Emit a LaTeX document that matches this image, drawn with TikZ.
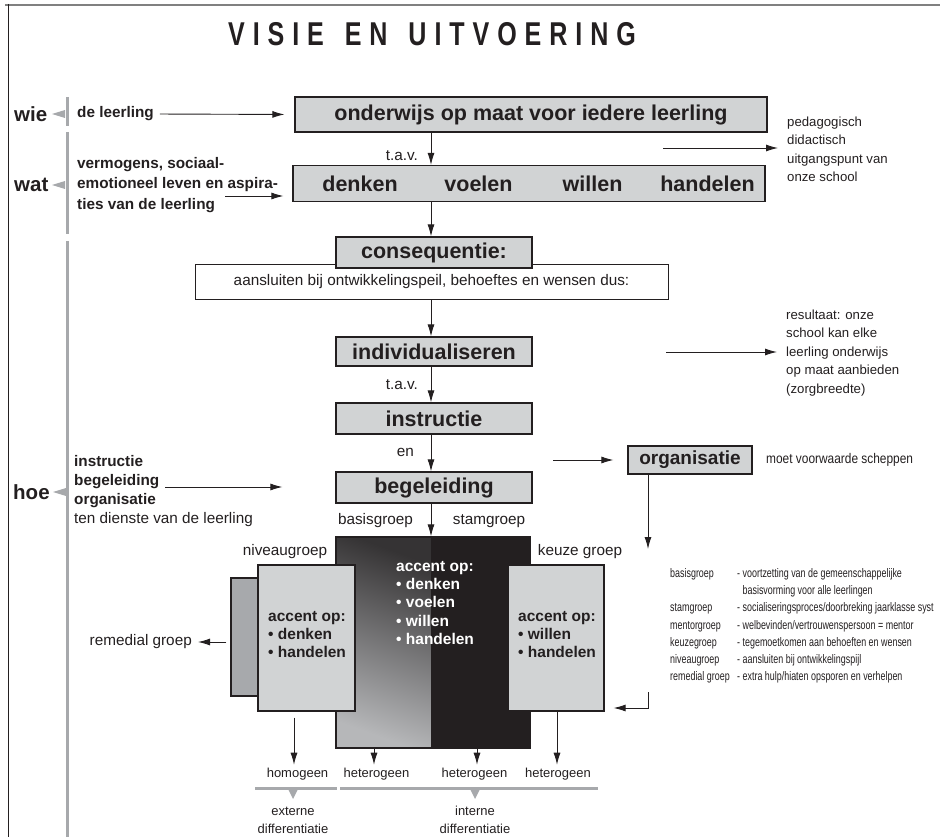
\documentclass[tikz,border=0pt]{standalone}
\usepackage{fontspec}
\setmainfont{Liberation Sans}
\newfontfamily\listfont{Liberation Sans}[FakeStretch=0.72]
\newfontfamily\moetfont{Liberation Sans}[FakeStretch=0.85]
\newfontfamily\titlefont{Liberation Sans}[FakeStretch=0.76,LetterSpace=24]
\usetikzlibrary{arrows.meta}
\definecolor{dk}{HTML}{231F20}
\definecolor{lg}{HTML}{D1D3D4}
\definecolor{mg}{HTML}{A7A9AC}
\definecolor{br}{HTML}{A7A9AC}
\definecolor{shA}{HTML}{353334}
\definecolor{shB}{HTML}{B6B7B9}
\newcommand\FBox{\fontsize{21.5}{24}\selectfont\bfseries}
\newcommand\FOrg{\fontsize{19}{22}\selectfont\bfseries}
\newcommand\FLab{\fontsize{20.5}{22}\selectfont\bfseries}
\newcommand\FBold{\fontsize{15.3}{20.5}\selectfont\bfseries}
\newcommand\FAcc{\fontsize{15.5}{18.3}\selectfont\bfseries}
\newcommand\FReg{\fontsize{15.3}{19}\selectfont}
\newcommand\FSm{\fontsize{13.2}{18.5}\selectfont}
\newcommand\FMoet{\moetfont\fontsize{14}{16}\selectfont}
\newcommand\FBot{\fontsize{13}{18}\selectfont}
\newcommand\FList{\listfont\fontsize{12.4}{17.3}\selectfont}
\begin{document}
\begin{tikzpicture}[x=1pt,y=-1pt,
  gbox/.style={draw=dk, fill=lg, line width=1.2pt, inner sep=0pt, font=\FBox, text=dk},
  arr/.style={draw=dk, line width=0.9pt, -{Latex[length=12pt,width=7pt]}},
  txt/.style={inner sep=0pt, text=dk},
  brk/.style={draw=br, line width=3pt},
  tri/.style={fill=br, draw=none}]
\useasboundingbox (0,0) rectangle (940,837);
% frame
\draw[draw=gray, line width=2pt] (5,5) -- (940,5);
\draw[dk, line width=1pt] (8,4) -- (8,837);
% title
\node[txt, font=\titlefont\fontsize{33}{36}\selectfont\bfseries] (title) at (432,34) {VISIE\hspace{6pt} EN\hspace{6pt} UITVOERING};
% brackets
\draw[brk] (67,97) -- (67,126);
\draw[brk] (67,132) -- (67,234);
\draw[brk] (67,241) -- (67,837);
\fill[tri] (52,114) -- (65,110) -- (65,118) -- cycle;
\fill[tri] (52,185) -- (65,181) -- (65,189) -- cycle;
\fill[tri] (53,492) -- (66,488) -- (66,496) -- cycle;
\node[txt, font=\FLab, anchor=west] (wie) at (14,114) {wie};
\node[txt, font=\FLab, anchor=west] (wat) at (14,185) {wat};
\node[txt, font=\FLab, anchor=west] (hoe) at (13,492) {hoe};
% wie
\node[txt, font=\FBold, anchor=west] (lrl) at (77,114) {de leerling};
\node[gbox, minimum width=472pt, minimum height=35pt] (b1) at (531,114.5) {onderwijs op maat voor iedere leerling};
\draw[arr, shorten <=6pt, shorten >=10pt] (lrl.east) -- (b1.west);
% wat
\node[txt, font=\FBold, anchor=west, align=left] (verm) at (77,185) {vermogens, sociaal-\\emotioneel leven en aspira-\\ties van de leerling};
\node[gbox, minimum width=472pt, minimum height=36pt] (b2) at (529,183.5) {};
\node[txt, font=\FBox] (d1) at (360,183.5) {denken};
\node[txt, font=\FBox] (d2) at (478.5,183.5) {voelen};
\node[txt, font=\FBox] (d3) at (592.5,183.5) {willen};
\node[txt, font=\FBox] (d4) at (707.5,183.5) {handelen};
\coordinate (va) at (225,196);
\draw[arr, shorten >=9pt] (va) -- (b2.west |- va);
\coordinate (ax) at (431,0);
\draw[arr] (b1.south -| ax) -- (b2.north -| ax);
\node[txt, font=\FReg, anchor=east] (tav1) at (418,156) {t.a.v.};
\coordinate (pa) at (663,148);
\node[txt, font=\FSm, anchor=west, align=left] (ped) at (787,149.5) {pedagogisch\\didactisch\\uitgangspunt van\\onze school};
\draw[arr, shorten >=9pt] (pa) -- (ped.west |- pa);
% consequentie
\node[txt, draw=dk, fill=white, line width=1pt, minimum width=473pt, minimum height=34pt, font=\FReg] (wb) at (431.5,282) {aansluiten bij ontwikkelingspeil, behoeftes en wensen dus:};
\node[gbox, minimum width=196pt, minimum height=31pt] (cons) at (434,252.5) {consequentie:};
\draw[arr] (b2.south -| ax) -- (cons.north -| ax);
\node[gbox, minimum width=196pt, minimum height=29pt] (ind) at (434,351.5) {individualiseren};
\draw[arr] (wb.south -| ax) -- (ind.north -| ax);
\coordinate (ra) at (666,352);
\node[txt, font=\FSm, anchor=west, align=left] (res) at (786,353) {resultaat: onze\\school kan elke\\leerling onderwijs\\op maat aanbieden\\(zorgbreedte)};
\draw[arr, shorten >=9pt] (ra) -- (res.west |- ra);
\node[txt, font=\FReg, anchor=east] (tav2) at (418,385) {t.a.v.};
\node[gbox, minimum width=196pt, minimum height=31pt] (ins) at (434,418.5) {instructie};
\draw[arr] (ind.south -| ax) -- (ins.north -| ax);
\node[txt, font=\FReg, anchor=east] (en) at (414,452) {en};
\node[gbox, minimum width=196pt, minimum height=31pt] (beg) at (434,487.5) {begeleiding};
\draw[arr] (ins.south -| ax) -- (beg.north -| ax);
% organisatie
\node[gbox, font=\FOrg, minimum width=124pt, minimum height=28pt] (org) at (690,460) {organisatie};
\coordinate (oa) at (553,460);
\draw[arr, shorten >=14pt] (oa) -- (org.west);
\node[txt, font=\FMoet, anchor=west] (moet) at (766,460) {moet voorwaarde scheppen};
\coordinate (oe) at (648,549);
\draw[arr] (org.south -| oe) -- (oe);
% hoe
\node[txt, font=\FReg, anchor=west, align=left] (hoet) at (74,491.5) {\textbf{instructie}\\\textbf{begeleiding}\\\textbf{organisatie}\\ten dienste van de leerling};
\coordinate (ha) at (165,487);
\draw[arr, shorten >=53pt] (ha) -- (beg.west |- ha);
% groups
\node[txt, font=\FReg] (basg) at (375.5,521) {basisgroep};
\node[txt, font=\FReg] (stamg) at (489,521) {stamgroep};
\node[txt, font=\FReg] (nivg) at (285,552) {niveaugroep};
\node[txt, font=\FReg] (keuzg) at (580,552) {keuze groep};
% central block
\shade[top color=shA, bottom color=shB, shading angle=-20] (336,537) rectangle (431,748);
\fill[dk] (431,537) rectangle (530,748);
\node[draw=dk, line width=1.2pt, minimum width=194pt, minimum height=211pt, inner sep=0pt] (cen) at (433,642.5) {};
\draw[arr] (beg.south -| ax) -- (cen.north -| ax);
\node[txt, text=white, font=\FAcc, anchor=north west, align=left] (cent) at (396,561) {accent op:\\• denken\\• voelen\\• willen\\• handelen};
% left block
\node[draw=dk, fill=mg, line width=1.2pt, minimum width=28pt, minimum height=118pt, inner sep=0pt] (rem) at (245,637) {};
\node[gbox, minimum width=97pt, minimum height=146pt] (lbx) at (306.5,638) {};
\node[txt, font=\FAcc, anchor=north west, align=left] (lt) at (268,611) {accent op:\\• denken\\• handelen};
\node[txt, font=\FReg, anchor=east] (remg) at (192,642) {remedial groep};
\draw[arr, shorten <=4pt, shorten >=6pt] (rem.west |- remg) -- (remg.east);
% right block
\node[gbox, minimum width=96pt, minimum height=146pt] (rbx) at (556,638) {};
\node[txt, font=\FAcc, anchor=north west, align=left] (rt) at (518,611) {accent op:\\• willen\\• handelen};
% list
\node[txt, font=\FList, anchor=north west, align=left] (lstA) at (670,568) {basisgroep\\\mbox{}\\stamgroep\\mentorgroep\\keuzegroep\\niveaugroep\\remedial groep};
\node[txt, font=\FList, anchor=north west, align=left] (lstB) at (737,568) {- voortzetting van de gemeenschappelijke\\\phantom{- }basisvorming voor alle leerlingen\\- socialiseringsproces/doorbreking jaarklasse syst\\- welbevinden/vertrouwenspersoon = mentor\\- tegemoetkomen aan behoeften en wensen\\- aansluiten bij ontwikkelingspijl\\- extra hulp/hiaten opsporen en verhelpen};
\coordinate (la) at (648,692);
\draw[arr, shorten >=9pt] (la) |- (rbx.east |- 0,708);
% bottom
\node[txt, font=\FBot] (hom) at (297.5,774) {homogeen};
\node[txt, font=\FBot] (het1) at (376.5,774) {heterogeen};
\node[txt, font=\FBot] (het2) at (474.5,774) {heterogeen};
\node[txt, font=\FBot] (het3) at (558,774) {heterogeen};
\draw[arr, shorten <=6pt, shorten >=3pt] (lbx.south -| 294,0) -- (hom.north -| 294,0);
\draw[arr, shorten >=3pt] (cen.south -| 374,0) -- (het1.north -| 374,0);
\draw[arr, shorten >=3pt] (cen.south -| 477,0) -- (het2.north -| 477,0);
\draw[arr, shorten >=3pt] (rbx.south -| 557,0) -- (het3.north -| 557,0);
\draw[brk] (255,788) -- (337,788);
\draw[brk] (340,788) -- (598,788);
\fill[tri] (288,789) -- (298,789) -- (293,799) -- cycle;
\fill[tri] (470,789) -- (480,789) -- (475,799) -- cycle;
\node[txt, font=\FBot, align=center] (ext) at (293,820) {externe\\differentiatie};
\node[txt, font=\FBot, align=center] (int) at (475,820) {interne\\differentiatie};
\end{tikzpicture}
\end{document}
